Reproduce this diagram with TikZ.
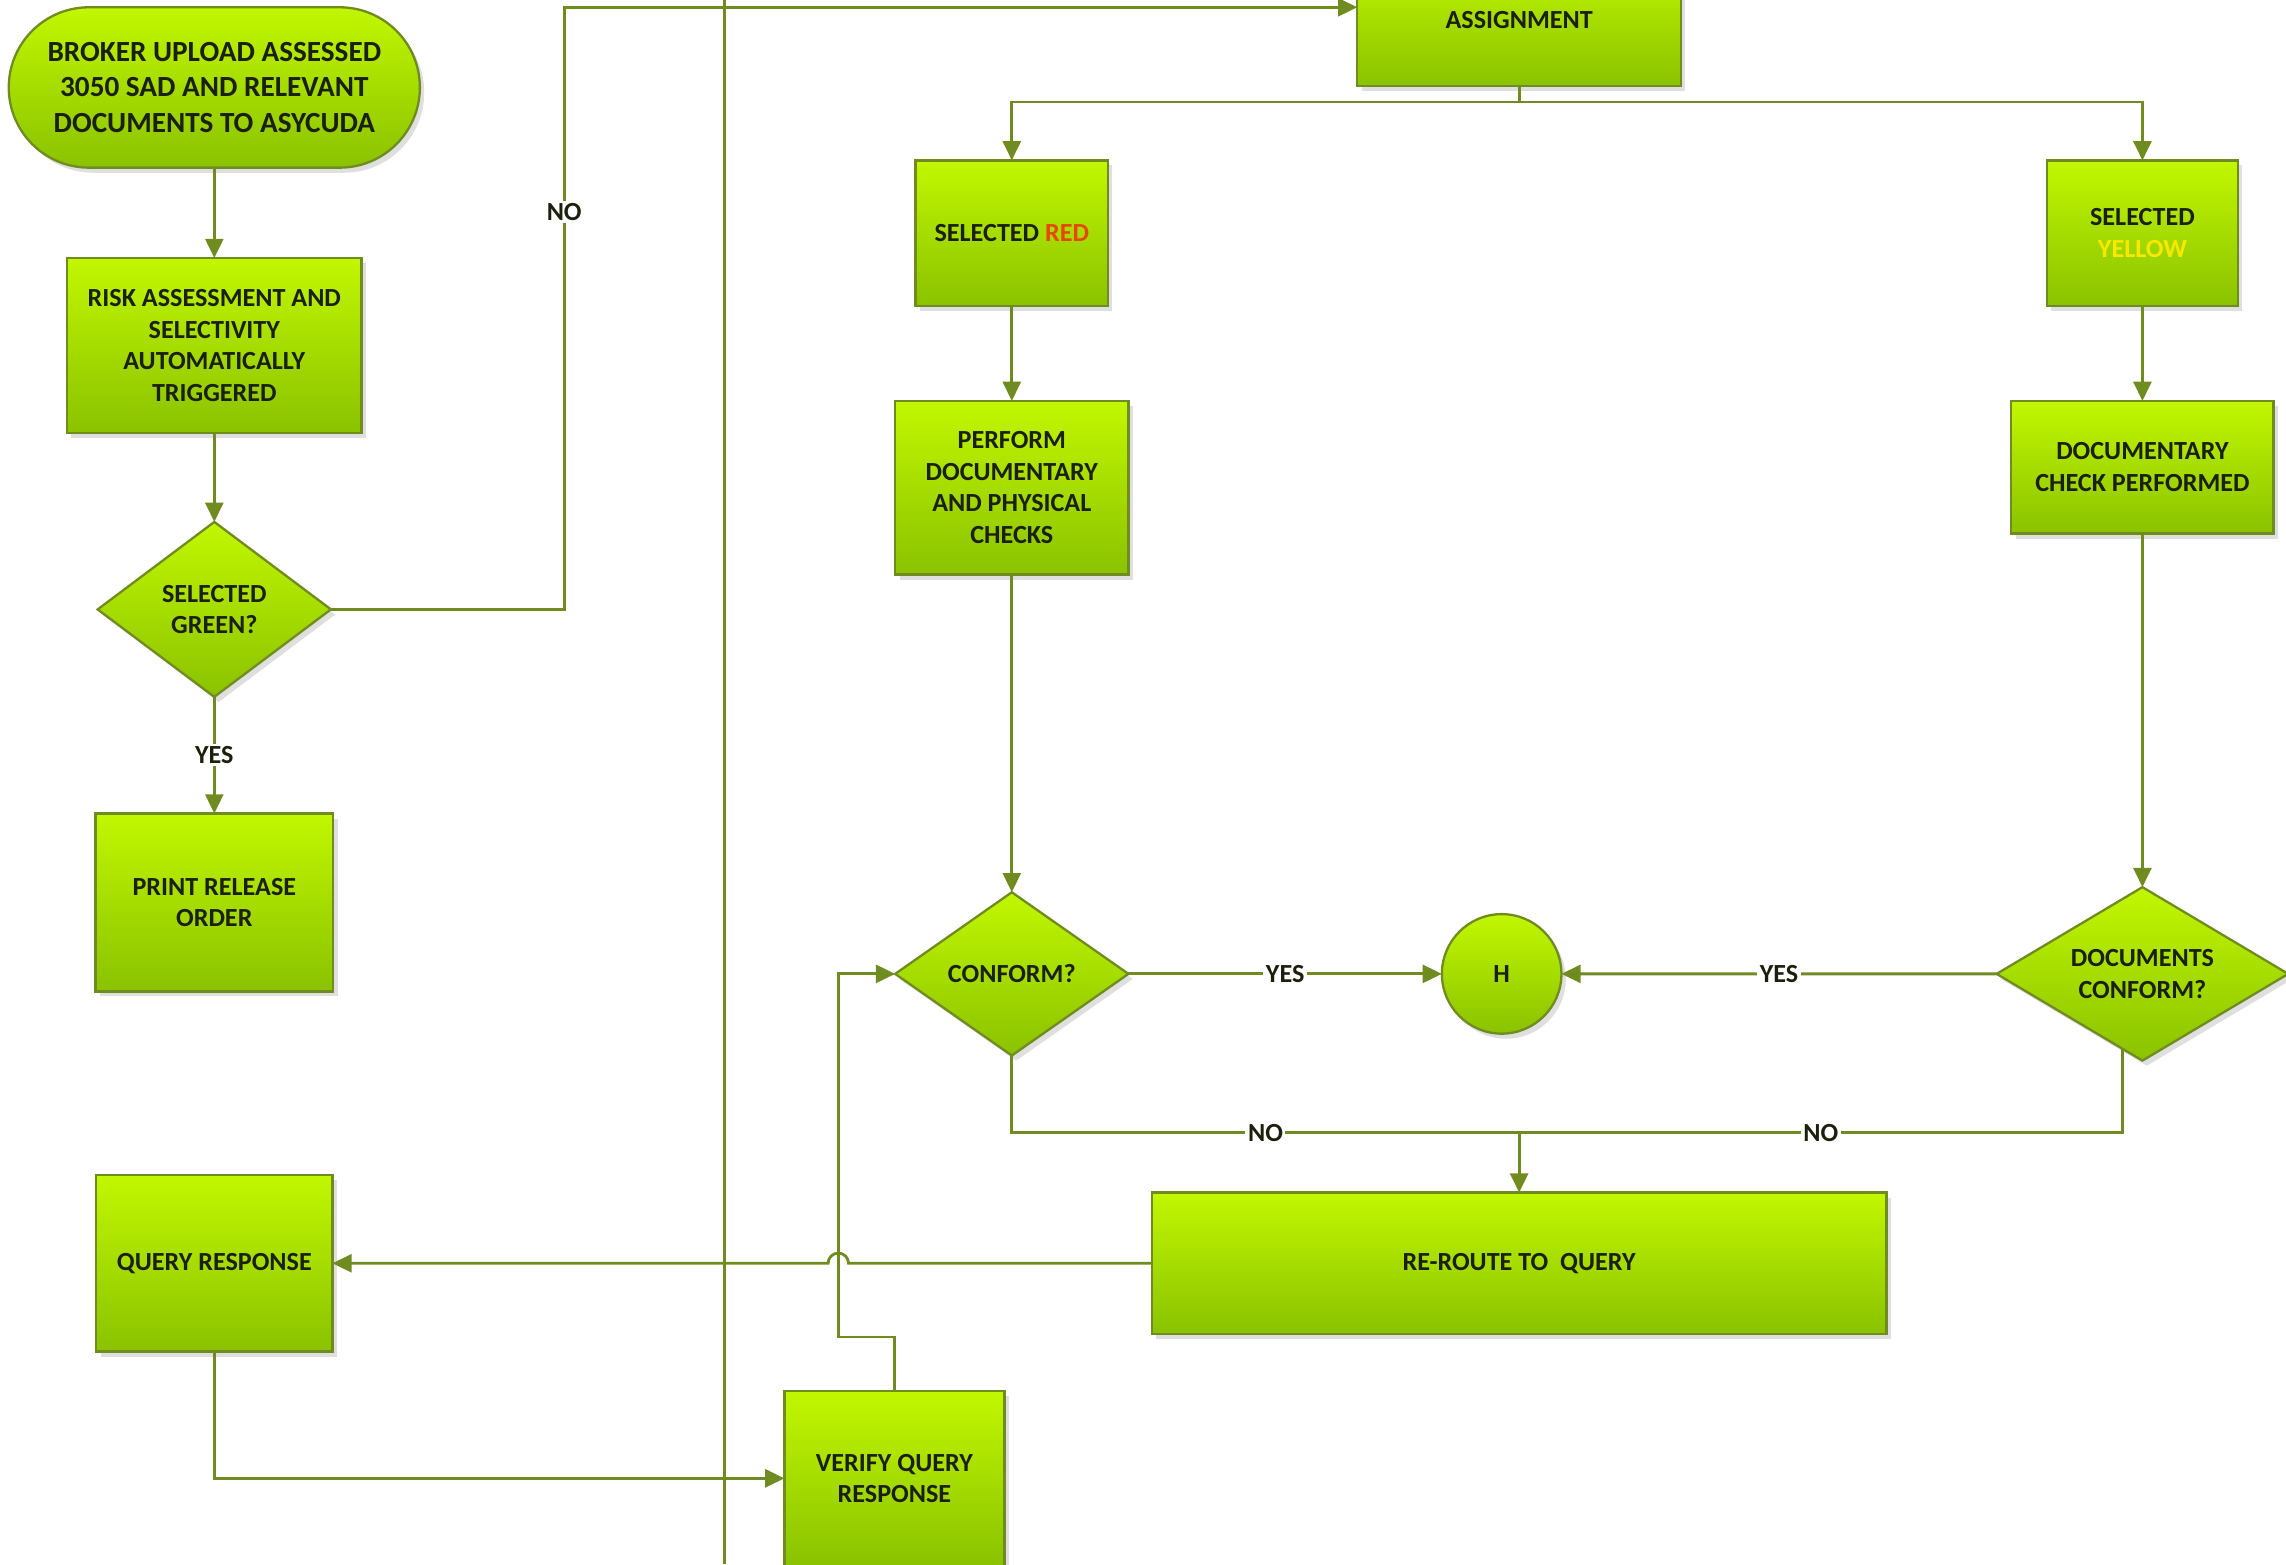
\documentclass[tikz,border=0pt]{standalone}
\usepackage{fontspec}
\setmainfont{Carlito}
\usepackage{xcolor}
\usetikzlibrary{positioning}
\usetikzlibrary{arrows.meta}
\usetikzlibrary{shapes.geometric,shadows,calc}

\definecolor{limetop}{RGB}{194,247,0}
\definecolor{limebot}{RGB}{138,194,0}
\definecolor{flowline}{RGB}{112,140,32}
\definecolor{inkdark}{RGB}{26,32,12}
\definecolor{redword}{RGB}{232,70,0}
\definecolor{yellowword}{RGB}{250,232,0}

\begin{document}
\begin{tikzpicture}[
    boxfill/.style={draw=flowline, line width=0.9pt, outer sep=0pt, top color=limetop, bottom color=limebot,
        drop shadow={opacity=0.25, shadow xshift=0.06cm, shadow yshift=-0.07cm},
        text=inkdark, font=\bfseries\fontsize{10.2}{12.3}\selectfont, align=center},
    block/.style={boxfill, rectangle, inner sep=2pt},
    decision/.style={boxfill, diamond, inner sep=0pt, shape aspect=1.33},
    flowpath/.style={draw=flowline, line width=1.1pt},
    flowarrow/.style={flowpath, -{Triangle[length=7.5pt,width=7pt]}},
    lbl/.style={fill=white, inner sep=1pt, text=inkdark, font=\bfseries\fontsize{10.2}{12}\selectfont}
]
\useasboundingbox (0,0) rectangle (31.36,-21.46);
\clip (0,0) rectangle (31.36,-21.46);

 % Broker side
\node[block, rounded corners=1.1cm,
    minimum width=5.64cm,
    minimum height=2.2cm,
    font=\bfseries\fontsize{11.4}{13.7}\selectfont
] (upload) at (2.94,-1.20) {BROKER UPLOAD ASSESSED\\3050 SAD AND RELEVANT\\DOCUMENTS TO ASYCUDA};

\node[block,
    minimum width=4.04cm,
    minimum height=2.4cm,
    below=1.24cm of upload
] (risk) {RISK ASSESSMENT AND\\SELECTIVITY\\AUTOMATICALLY\\TRIGGERED};

\node[decision,
    minimum width=3.2cm,
    minimum height=2.4cm,
    below=1.22cm of risk
] (green) {SELECTED\\GREEN?};

\node[block,
    minimum width=3.26cm,
    minimum height=2.44cm,
    below=1.6cm of green
] (release) {PRINT RELEASE\\ORDER};

\node[block,
    minimum width=3.24cm,
    minimum height=2.42cm,
    below=2.52cm of release
] (query) {QUERY RESPONSE};

% Lane divider
\coordinate (laneTop) at (9.94,0);
\coordinate (laneBot) at (9.94,-21.46);
\draw[flowpath] (laneTop) -- (laneBot);

 % Customs side
\node[block, minimum width=4.44cm, minimum height=1.8cm] (assign) at (20.84,-0.28) {ASSIGNMENT};

\node[block, minimum width=2.64cm, minimum height=2cm] (red) at (13.88,-3.20) {SELECTED \textcolor{redword}{RED}};

\node[block,
    minimum width=3.2cm,
    minimum height=2.38cm,
    below=1.3cm of red
] (perform) {PERFORM\\DOCUMENTARY\\AND PHYSICAL\\CHECKS};

\node[decision,
    minimum width=3.2cm,
    minimum height=2.24cm,
    below=4.36cm of perform
] (conform) {CONFORM?};

\node[circle, boxfill, minimum size=1.64cm, inner sep=0pt, right=4.3cm of conform] (hold) {H};

\node[block, minimum width=2.62cm, minimum height=2cm] (yellow) at (29.39,-3.20) {SELECTED\\\textcolor{yellowword}{YELLOW}};

\node[block,
    minimum width=3.6cm,
    minimum height=1.82cm,
    below=1.3cm of yellow
] (doccheck) {DOCUMENTARY\\CHECK PERFORMED};

\node[decision,
    shape aspect=1.68,
    minimum width=4cm,
    minimum height=2.38cm,
    below=4.85cm of doccheck
] (docconf) {DOCUMENTS\\CONFORM?};

\node[block, minimum width=10.08cm, minimum height=1.94cm] (reroute) at (20.84,-17.33) {RE-ROUTE TO\ \ QUERY};

\node[block, minimum width=3.02cm, minimum height=2.4cm] (verify) at (12.27,-20.28) {VERIFY QUERY\\RESPONSE};

% Broker flow
\draw[flowarrow] (upload) -- (risk);
\draw[flowarrow] (risk) -- (green);
\draw[flowarrow] (green) -- (release) node[midway, lbl]{YES};

\coordinate (noturn) at (7.74,-0.10);
\draw[flowarrow] (green.east) -| (noturn) node[pos=0.83, lbl]{NO} -- (noturn -| assign.west);

% Selectivity lanes
\coordinate (split) at ($(assign.south)+(0,-0.22)$);
\draw[flowpath] (assign.south) -- (split);
\draw[flowarrow] (split) -| (red.north);
\draw[flowarrow] (split) -| (yellow.north);

\draw[flowarrow] (red) -- (perform);
\draw[flowarrow] (perform) -- (conform);
\draw[flowarrow] (yellow) -- (doccheck);
\draw[flowarrow] (doccheck) -- (docconf);

\draw[flowarrow] (conform) -- (hold) node[midway, lbl]{YES};
\draw[flowarrow] (docconf.west) -- (hold.east) node[midway, lbl]{YES};

% Query loop
\coordinate (nojoin) at (20.84,-15.54);
\draw[flowpath] (conform.south) |- (nojoin) node[pos=0.75, lbl]{NO};
\draw[flowpath] (docconf.-105) |- (nojoin) node[pos=0.75, lbl]{NO};
\draw[flowarrow] (nojoin) -- (reroute.north);

\coordinate (backturn) at (11.50,-18.34);
\coordinate (hop) at (backturn |- reroute.west);
\draw[flowarrow] (reroute.west) -- ([xshift=0.14cm]hop) arc[start angle=0, end angle=180, radius=0.14cm] -- (hop -| query.east);

\draw[flowarrow] (query.south) |- (verify.west);
\draw[flowarrow] (verify.north) |- (backturn) |- (conform.west);
\end{tikzpicture}
\end{document}
